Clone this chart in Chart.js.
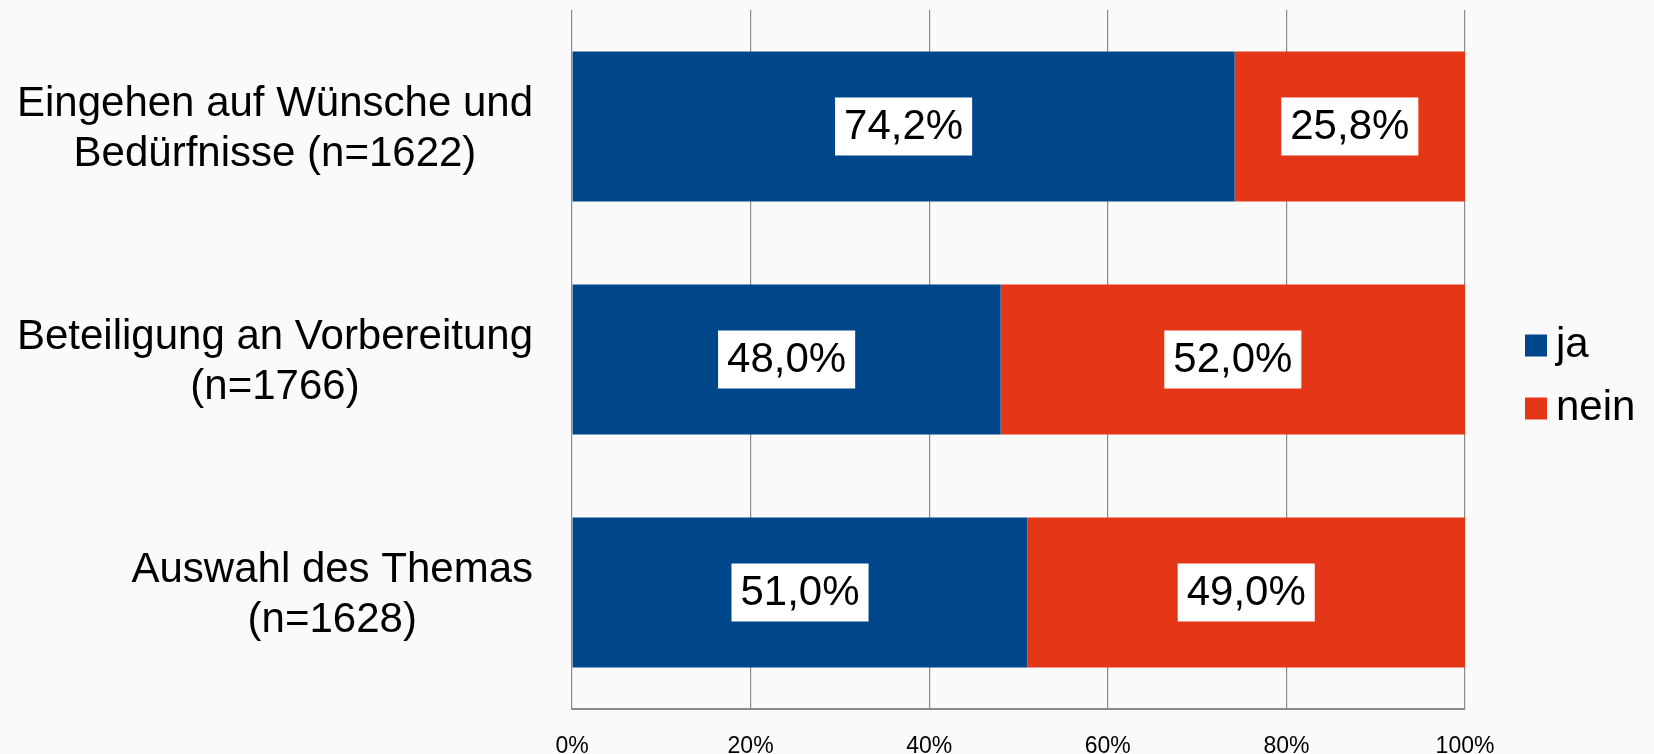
<!DOCTYPE html>
<html>
<head>
<meta charset="utf-8">
<script src="https://cdn.jsdelivr.net/npm/chart.js@4/dist/chart.umd.min.js"></script>
<style>
  html, body { margin: 0; padding: 0; background: #fafafa; }
  #wrap { width: 1654px; height: 754px; }
</style>
</head>
<body>
<div id="wrap"><canvas id="chBar"></canvas></div>
<script>
/* stacked 100% bar chart: ja / nein */

// data
var categories = [
  ['Eingehen auf Wünsche und', 'Bedürfnisse (n=1622)'],
  ['Beteiligung an Vorbereitung', '(n=1766)'],
  ['Auswahl des Themas', '(n=1628)']
];
var seriesNames = ['ja', 'nein'];
var jaValues = [74.2, 48.0, 51.0];
var neinValues = [25.8, 52.0, 49.0];
var xTicks = [0, 20, 40, 60, 80, 100];

// colors
var colors = ['#00468b', '#e43718'];
var bigFont = '42px "Liberation Sans", Arial, sans-serif';

// labels, value boxes and legend drawn on the canvas
var drawExtras = {
  id: 'drawExtras',
  afterDraw: function (chart) {
    var ctx = chart.ctx;
    var area = chart.chartArea;
    var yScale = chart.scales.y;
    ctx.save();
    ctx.font = bigFont;
    ctx.textBaseline = 'middle';
    ctx.fillStyle = '#000';

    // category labels: block right aligned, lines centered
    categories.forEach(function (lines, i) {
      var y = yScale.getPixelForValue(i) + 3;
      var maxW = 0;
      lines.forEach(function (l) { maxW = Math.max(maxW, ctx.measureText(l).width); });
      var cx = area.left - 39 - maxW / 2;
      ctx.textAlign = 'center';
      lines.forEach(function (l, k) {
        ctx.fillText(l, cx, y + (k - (lines.length - 1) / 2) * 50);
      });
    });

    // value boxes
    chart.data.datasets.forEach(function (ds, d) {
      var meta = chart.getDatasetMeta(d);
      meta.data.forEach(function (bar, i) {
        var txt = ds.data[i].toFixed(1).replace('.', ',') + '%';
        var cx = (bar.x + bar.base) / 2;
        var w = ctx.measureText(txt).width + 18;
        var h = 58;
        ctx.fillStyle = '#ffffff';
        ctx.fillRect(cx - w / 2, bar.y - h / 2, w, h);
        ctx.fillStyle = '#000';
        ctx.textAlign = 'center';
        ctx.fillText(txt, cx, bar.y + 1);
      });
    });

    // legend
    var lx = area.right + 60;
    var ly = (area.top + area.bottom) / 2 - 14;
    seriesNames.forEach(function (name, k) {
      var y = ly + k * 63;
      ctx.fillStyle = colors[k];
      ctx.fillRect(lx, y - 11, 22, 22);
      ctx.fillStyle = '#000';
      ctx.textAlign = 'left';
      ctx.fillText(name, lx + 31, y);
    });
    ctx.restore();
  }
};

var chBar = document.getElementById('chBar');
if (chBar) {
  new Chart(chBar, {
    type: 'bar',
    data: {
      labels: categories,
      datasets: [
        { label: seriesNames[0], data: jaValues, backgroundColor: colors[0], borderWidth: 0,
          barPercentage: 0.644, categoryPercentage: 1 },
        { label: seriesNames[1], data: neinValues, backgroundColor: colors[1], borderWidth: 0,
          barPercentage: 0.644, categoryPercentage: 1 }
      ]
    },
    options: {
      indexAxis: 'y',
      responsive: true,
      maintainAspectRatio: false,
      animation: false,
      layout: { padding: { top: 10, right: 189, left: 0, bottom: 0 } },
      plugins: { legend: { display: false }, tooltip: { enabled: false } },
      scales: {
        x: {
          stacked: true,
          min: 0,
          max: 100,
          afterBuildTicks: function (s) { s.ticks = xTicks.map(function (v) { return { value: v }; }); },
          afterFit: function (s) { s.height = 45; },
          grid: { color: '#8a8a8a', lineWidth: 1.2, drawTicks: false },
          border: { color: '#8a8a8a', width: 2 },
          ticks: {
            padding: 24,
            color: '#000',
            font: { family: '"Liberation Sans", Arial, sans-serif', size: 23 },
            callback: function (v) { return v + '%'; }
          }
        },
        y: {
          stacked: true,
          afterFit: function (s) { s.width = 572; },
          grid: { display: false },
          border: { display: false },
          ticks: { display: false }
        }
      }
    },
    plugins: [drawExtras]
  });
}
</script>
</body>
</html>
